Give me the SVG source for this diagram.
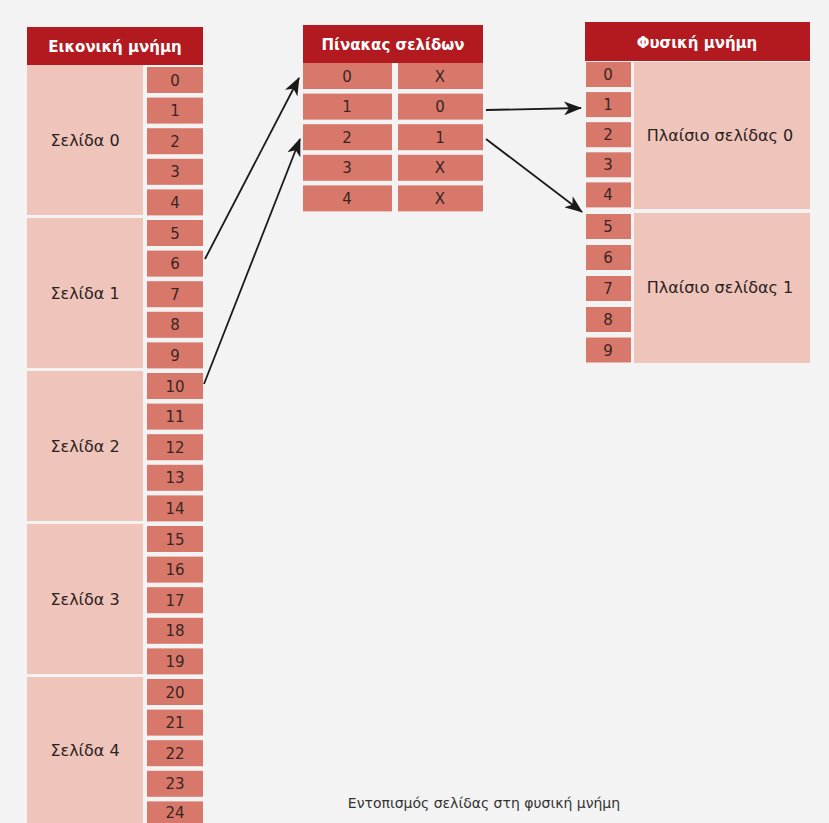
<svg xmlns="http://www.w3.org/2000/svg" width="829" height="823" viewBox="0 0 829 823">
<defs>
<style>
.hdr{fill:#b31a20}
.cell{fill:#d8786b}
.panel{fill:#efc4bb}
.ht{font-family:"DejaVu Sans","Liberation Sans",sans-serif;font-size:15px;font-weight:bold;fill:#ffffff;text-anchor:middle}
.num{font-family:"DejaVu Sans","Liberation Sans",sans-serif;font-size:15px;fill:#3a2622;text-anchor:middle}
.lbl{font-family:"DejaVu Sans","Liberation Sans",sans-serif;font-size:16px;fill:#2a2220;text-anchor:middle}
.cap{font-family:"DejaVu Sans","Liberation Sans",sans-serif;font-size:14px;fill:#333333;text-anchor:middle}
.arr{stroke:#1a1a1a;stroke-width:1.8;fill:none;marker-end:url(#ah)}
</style>
<marker id="ah" markerUnits="userSpaceOnUse" markerWidth="20" markerHeight="14" refX="17" refY="7" orient="auto">
<path d="M0,0 L18,7 L0,14 L5,7 z" fill="#1a1a1a"/>
</marker>
</defs>
<rect x="0" y="0" width="829" height="823" fill="#f3f3f3"/>

<g id="virtual-memory">
<rect class="hdr" x="27" y="27" width="176" height="38"/>
<text class="ht" x="115" y="52">Εικονική μνήμη</text>
<g id="vpage0"><rect class="panel" x="27" y="65" width="116" height="150"/><text class="lbl" x="85" y="146">Σελίδα 0</text></g>
<g id="vpage1"><rect class="panel" x="27" y="218" width="116" height="150"/><text class="lbl" x="85" y="299">Σελίδα 1</text></g>
<g id="vpage2"><rect class="panel" x="27" y="371" width="116" height="150"/><text class="lbl" x="85" y="452">Σελίδα 2</text></g>
<g id="vpage3"><rect class="panel" x="27" y="524" width="116" height="150"/><text class="lbl" x="85" y="605">Σελίδα 3</text></g>
<g id="vpage4"><rect class="panel" x="27" y="677" width="116" height="150"/><text class="lbl" x="85" y="756">Σελίδα 4</text></g>
<g id="vcells">
<rect class="cell" x="147" y="67" width="56" height="26"/><text class="num" x="175" y="85.5">0</text>
<rect class="cell" x="147" y="97.6" width="56" height="26"/><text class="num" x="175" y="116.1">1</text>
<rect class="cell" x="147" y="128.2" width="56" height="26"/><text class="num" x="175" y="146.7">2</text>
<rect class="cell" x="147" y="158.8" width="56" height="26"/><text class="num" x="175" y="177.3">3</text>
<rect class="cell" x="147" y="189.4" width="56" height="26"/><text class="num" x="175" y="207.9">4</text>
<rect class="cell" x="147" y="220" width="56" height="26"/><text class="num" x="175" y="238.5">5</text>
<rect class="cell" x="147" y="250.6" width="56" height="26"/><text class="num" x="175" y="269.1">6</text>
<rect class="cell" x="147" y="281.2" width="56" height="26"/><text class="num" x="175" y="299.7">7</text>
<rect class="cell" x="147" y="311.8" width="56" height="26"/><text class="num" x="175" y="330.3">8</text>
<rect class="cell" x="147" y="342.4" width="56" height="26"/><text class="num" x="175" y="360.9">9</text>
<rect class="cell" x="147" y="373" width="56" height="26"/><text class="num" x="175" y="391.5">10</text>
<rect class="cell" x="147" y="403.6" width="56" height="26"/><text class="num" x="175" y="422.1">11</text>
<rect class="cell" x="147" y="434.2" width="56" height="26"/><text class="num" x="175" y="452.7">12</text>
<rect class="cell" x="147" y="464.8" width="56" height="26"/><text class="num" x="175" y="483.3">13</text>
<rect class="cell" x="147" y="495.4" width="56" height="26"/><text class="num" x="175" y="513.9">14</text>
<rect class="cell" x="147" y="526" width="56" height="26"/><text class="num" x="175" y="544.5">15</text>
<rect class="cell" x="147" y="556.6" width="56" height="26"/><text class="num" x="175" y="575.1">16</text>
<rect class="cell" x="147" y="587.2" width="56" height="26"/><text class="num" x="175" y="605.7">17</text>
<rect class="cell" x="147" y="617.8" width="56" height="26"/><text class="num" x="175" y="636.3">18</text>
<rect class="cell" x="147" y="648.4" width="56" height="26"/><text class="num" x="175" y="666.9">19</text>
<rect class="cell" x="147" y="679" width="56" height="26"/><text class="num" x="175" y="697.5">20</text>
<rect class="cell" x="147" y="709.6" width="56" height="26"/><text class="num" x="175" y="728.1">21</text>
<rect class="cell" x="147" y="740.2" width="56" height="26"/><text class="num" x="175" y="758.7">22</text>
<rect class="cell" x="147" y="770.8" width="56" height="26"/><text class="num" x="175" y="789.3">23</text>
<rect class="cell" x="147" y="801.4" width="56" height="26"/><text class="num" x="175" y="818.4">24</text>
</g>
</g>

<g id="page-table">
<rect class="hdr" x="303" y="25" width="180" height="38"/>
<text class="ht" x="393" y="49.5">Πίνακας σελίδων</text>
<rect class="cell" x="303" y="63" width="89" height="26"/><rect class="cell" x="398" y="63" width="85" height="26"/>
<text class="num" x="347" y="81.5">0</text><text class="num" x="440" y="81.5">X</text>
<rect class="cell" x="303" y="93.6" width="89" height="26"/><rect class="cell" x="398" y="93.6" width="85" height="26"/>
<text class="num" x="347" y="112.1">1</text><text class="num" x="440" y="112.1">0</text>
<rect class="cell" x="303" y="124.2" width="89" height="26"/><rect class="cell" x="398" y="124.2" width="85" height="26"/>
<text class="num" x="347" y="142.7">2</text><text class="num" x="440" y="142.7">1</text>
<rect class="cell" x="303" y="154.8" width="89" height="26"/><rect class="cell" x="398" y="154.8" width="85" height="26"/>
<text class="num" x="347" y="173.3">3</text><text class="num" x="440" y="173.3">X</text>
<rect class="cell" x="303" y="185.4" width="89" height="26"/><rect class="cell" x="398" y="185.4" width="85" height="26"/>
<text class="num" x="347" y="203.9">4</text><text class="num" x="440" y="203.9">X</text>
</g>

<g id="physical-memory">
<rect class="hdr" x="585" y="22" width="225" height="39"/>
<text class="ht" x="697" y="47.5">Φυσική μνήμη</text>
<g id="frame0"><rect class="panel" x="634" y="62" width="176" height="147"/><text class="lbl" x="720" y="141">Πλαίσιο σελίδας 0</text></g>
<g id="frame1"><rect class="panel" x="634" y="213" width="176" height="150"/><text class="lbl" x="720" y="293">Πλαίσιο σελίδας 1</text></g>
<g id="pcells">
<rect class="cell" x="586" y="62" width="45" height="25"/><text class="num" x="608" y="80">0</text>
<rect class="cell" x="586" y="92.1" width="45" height="25"/><text class="num" x="608" y="110.1">1</text>
<rect class="cell" x="586" y="122.2" width="45" height="25"/><text class="num" x="608" y="140.2">2</text>
<rect class="cell" x="586" y="152.3" width="45" height="25"/><text class="num" x="608" y="170.3">3</text>
<rect class="cell" x="586" y="182.4" width="45" height="25"/><text class="num" x="608" y="200.4">4</text>
<rect class="cell" x="586" y="214" width="45" height="25"/><text class="num" x="608" y="232">5</text>
<rect class="cell" x="586" y="245" width="45" height="25"/><text class="num" x="608" y="263">6</text>
<rect class="cell" x="586" y="276" width="45" height="25"/><text class="num" x="608" y="294">7</text>
<rect class="cell" x="586" y="307" width="45" height="25"/><text class="num" x="608" y="325">8</text>
<rect class="cell" x="586" y="337.5" width="45" height="25"/><text class="num" x="608" y="355.5">9</text>
</g>
</g>

<g id="connectors">
<line class="arr" x1="205" y1="259" x2="299" y2="78"/>
<line class="arr" x1="204" y1="384" x2="300" y2="139"/>
<line class="arr" x1="486" y1="110" x2="581" y2="108"/>
<line class="arr" x1="486" y1="139" x2="582" y2="212"/>
</g>

<text class="cap" x="484" y="808">Εντοπισμός σελίδας στη φυσική μνήμη</text>
</svg>
